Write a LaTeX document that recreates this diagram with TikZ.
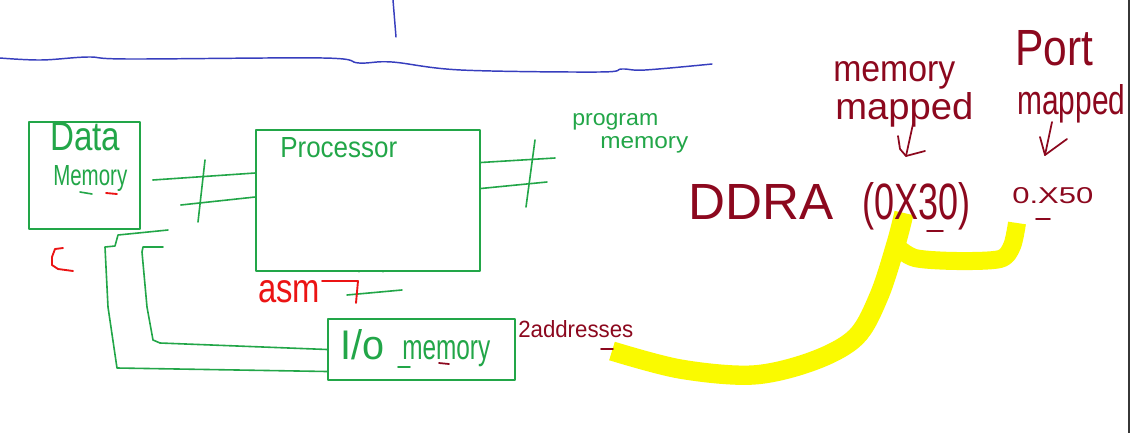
\documentclass[tikz,border=0pt]{standalone}
\usepackage{fontspec}
\setmainfont{Liberation Sans}
\usetikzlibrary{calc}
\definecolor{pgreen}{RGB}{34,166,72}
\definecolor{pblue}{RGB}{55,62,190}
\definecolor{pmaroon}{RGB}{140,8,30}
\definecolor{pred}{RGB}{235,20,20}
\definecolor{pyellow}{RGB}{250,250,0}
\definecolor{pborder}{RGB}{55,55,55}
\newlength\pxu
\setlength\pxu{0.75pt}
\newcommand{\hw}[3]{\resizebox{#1\pxu}{#2\pxu}{#3}}
\tikzset{
  gline/.style={draw=pgreen, line width=1.2pt, line cap=round, line join=round},
  mline/.style={draw=pmaroon, line width=1.3pt, line cap=round, line join=round},
  rline/.style={draw=pred, line width=1.4pt, line cap=round, line join=round},
  bline/.style={draw=pblue, line width=1.1pt, line cap=round, line join=round},
  ybar/.style={draw=pyellow, line join=round, line cap=butt},
  box/.style={gline, rectangle, inner sep=0pt},
  txt/.style={inner sep=0pt, anchor=base west},
}
\begin{document}
\begin{tikzpicture}[x=0.75pt,y=-0.75pt]
\useasboundingbox (0,0) rectangle (1132,433);
\fill[white] (0,0) rectangle (1132,433);

% blue lines
\draw[bline] (393,0) -- (396,37);
\draw[bline] plot[smooth, tension=0.6] coordinates {(0,58) (41,60) (88,57) (129,59) (323,58) (359,63) (392,62) (461,70) (599,72) (622,69) (645,70) (712,64)};

% right border
\draw[draw=pborder, line width=1.6pt] (1129,0) -- (1129,433);

% yellow highlight
\coordinate (ys) at (612,351);
\coordinate (ya) at (904,213);
\coordinate (yb) at (1017,223);
\draw[ybar, line width=14.5pt] plot[smooth, tension=0.55] coordinates {(ys) (680,369) (753,375) (813,361) (856,337) (879,296) (896,244) (ya)};
\draw[ybar, line width=13.5pt] plot[smooth, tension=0.5] coordinates {(896,246) (915,258) (957,261) (1000,259) (1012,246) (yb)};

% boxes
\node[box, minimum width=83.25pt, minimum height=80.25pt] (dm) at (84.5,175.5) {};
\node[box, minimum width=168pt, minimum height=105.75pt] (proc) at (368,200.5) {};
\node[box, minimum width=140.25pt, minimum height=45.75pt] (io) at (421.5,349.5) {};

% labels in boxes
\node[txt, text=pgreen] (tdata) at (50,150) {\hw{70}{28}{Data}};
\node[txt, text=pgreen] (tmem) at (53,185) {\hw{74}{20}{Memory}};
\node[txt, text=pgreen] (tproc) at (280,157) {\hw{117}{20}{Processor}};
\node[txt, text=pgreen] (tio) at (340,359) {\hw{44}{30}{I/o}\hspace{18\pxu}\hw{88}{19}{memory}};
\node[txt, text=pgreen] (tprog) at (572,125) {\hw{86}{12}{program}};
\node[txt, text=pgreen] (tpmem) at (600,148) {\hw{88}{12}{memory}};

% underline marks
\draw[gline] (80,192) -- (92,194);
\draw[rline] (106,193) -- (117,194);
\draw[gline] (398,367) -- (410,367);
\draw[mline] (439,363) -- (449,364);

% data memory <-> processor bus
\draw[gline] ($(dm.east)+(12,4.5)$) -- ($(proc.west)+(0,-27.5)$);
\draw[gline] ($(dm.east)+(40,29.5)$) -- ($(proc.west)+(0,-3.5)$);
\draw[gline] (205,160) -- (198,222);

% processor <-> program memory bus
\coordinate (pm1) at (555,158);
\coordinate (pm2) at (547,182);
\draw[gline] ($(proc.east)+(0,-38)$) -- (pm1);
\draw[gline] ($(proc.east)+(0,-12)$) -- (pm2);
\draw[gline] (535,140) -- (526,207);

% processor <-> I/O memory bus
\draw[gline] ($(proc.south)+(-9,0)$) -- ($(proc.south)+(-9,0)$ |- io.north);
\draw[gline] ($(proc.south)+(15,0)$) -- ($(proc.south)+(15,0)$ |- io.north);
\draw[gline] (347,295) -- (402,290);

% loops to I/O memory
\coordinate (lo) at (168,230);
\coordinate (li) at (163,247);
\draw[gline] (lo) -- (118,235) -- (115,246) -- (105,247) -- (108,307) -- (117,368) -- ($(io.west)+(0,22)$);
\draw[gline] (li) -- (143,247) -- (142,252) -- (147,307) -- (153,340) -- (160,343) -- (io.west);

% red marks
\draw[rline] (63,248) -- (55,249) -- (52,257) -- (52,265) -- (58,269) -- (73,271);
\node[txt, text=pred] (tasm) at (258,302) {\hw{62}{22}{asm}};
\draw[rline] (322,281) -- (358,281) -- (356,303);

% maroon texts
\node[txt, text=pmaroon] (tmm1) at (833,81) {\hw{122}{20}{memory}};
\node[txt, text=pmaroon] (tmm2) at (835,119) {\hw{138}{27}{mapped}};
\node[txt, text=pmaroon] (tport) at (1015,65) {\hw{78}{35}{Port}};
\node[txt, text=pmaroon] (tpm2) at (1017,114) {\hw{108}{30}{mapped}};
\node[txt, text=pmaroon] (tddra) at (688,219) {\hw{145}{35}{DDRA}\hspace{29\pxu}\hw{108}{37}{(0X30)}};
\draw[mline] (927,231) -- (943,231);
\node[txt, text=pmaroon] (t50) at (1012,203) {\hw{81}{16}{0.X50}};
\draw[mline] (1036,219) -- (1050,219);
\node[txt, text=pmaroon] (taddr) at (518,337) {\hw{115}{17}{2addresses}};
\draw[mline] (601,349) -- (613,349);

% hand-drawn arrows
\draw[mline] (913,124) -- (906,156);
\draw[mline] (898,136) -- (900,149) -- (906,156) -- (925,151);
\draw[mline] (1052,122) -- (1045,155);
\draw[mline] (1040,137) -- (1045,155) -- (1067,139);
\end{tikzpicture}
\end{document}
